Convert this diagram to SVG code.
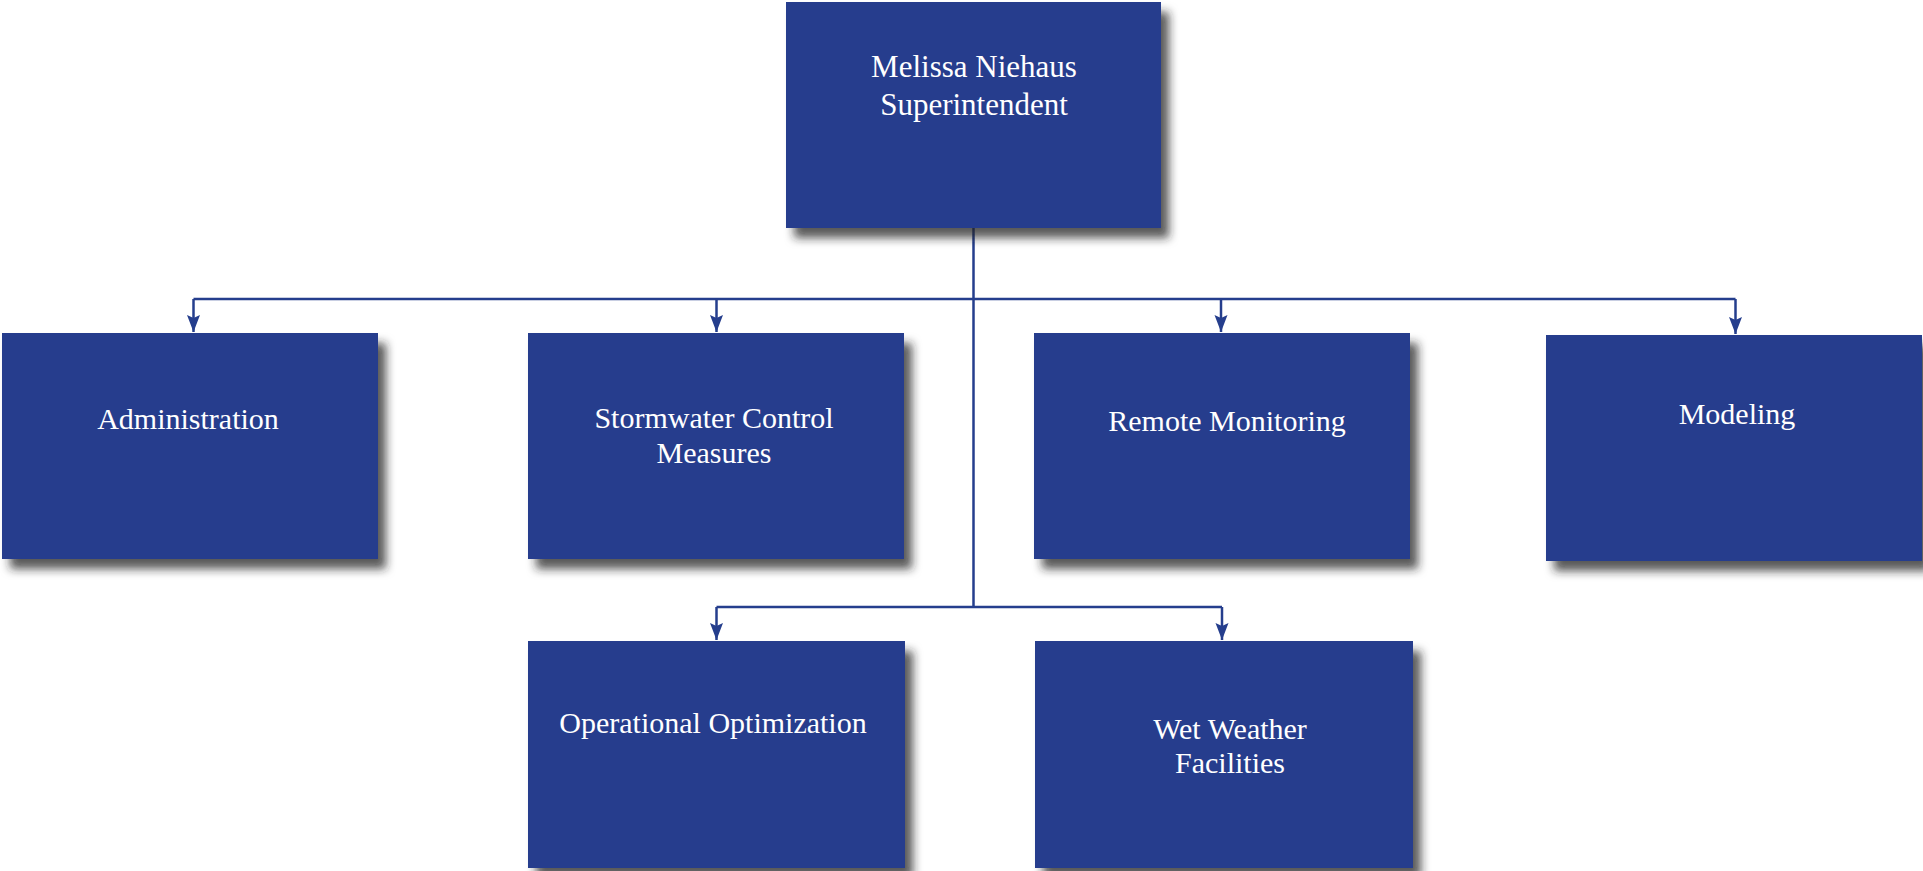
<svg xmlns="http://www.w3.org/2000/svg" width="1923" height="871" viewBox="0 0 1923 871">
<defs>
<filter id="sh" x="-5%" y="-5%" width="115%" height="120%">
<feDropShadow dx="8" dy="10" stdDeviation="5" flood-color="#222" flood-opacity="0.75"/>
</filter>
<marker id="arr" markerWidth="14" markerHeight="18" refX="7" refY="17" orient="0" markerUnits="userSpaceOnUse">
<path d="M0.5,0 L7,17 L13.5,0 L7,3 Z" fill="#253E8D"/>
</marker>
</defs>
<style>
.box{fill:#253E8D;filter:url(#sh);}
.t{font-family:"Liberation Serif","Times New Roman",serif;font-size:30px;fill:#ffffff;text-anchor:middle;}
.big{font-size:31px;}
.c{fill:none;stroke:#253E8D;stroke-width:2.5;}
</style>
<rect width="1923" height="871" fill="#ffffff"/>
<g id="connectors">
<line class="c" x1="973.5" y1="228" x2="973.5" y2="607"/>
<line class="c" x1="193.5" y1="299" x2="1735.5" y2="299"/>
<line class="c" x1="716.5" y1="607" x2="1222" y2="607"/>
<path class="c" d="M193.5,299 V332" marker-end="url(#arr)"/>
<path class="c" d="M716.5,299 V332" marker-end="url(#arr)"/>
<path class="c" d="M1221,299 V332" marker-end="url(#arr)"/>
<path class="c" d="M1735.5,299 V334" marker-end="url(#arr)"/>
<path class="c" d="M716.5,607 V640" marker-end="url(#arr)"/>
<path class="c" d="M1222,607 V640" marker-end="url(#arr)"/>
</g>
<g id="superintendent">
<rect class="box" x="786" y="2" width="375" height="226"/>
<text class="t big" x="974" y="77">Melissa Niehaus</text>
<text class="t big" x="974" y="115">Superintendent</text>
</g>
<g id="administration">
<rect class="box" x="2" y="333" width="376" height="226"/>
<text class="t" x="188" y="429">Administration</text>
</g>
<g id="stormwater">
<rect class="box" x="528" y="333" width="376" height="226"/>
<text class="t" x="714" y="428">Stormwater Control</text>
<text class="t" x="714" y="463">Measures</text>
</g>
<g id="remote">
<rect class="box" x="1034" y="333" width="376" height="226"/>
<text class="t" x="1227" y="431">Remote Monitoring</text>
</g>
<g id="modeling">
<rect class="box" x="1546" y="335" width="376" height="226"/>
<text class="t" x="1737" y="424">Modeling</text>
</g>
<g id="operational">
<rect class="box" x="528" y="641" width="377" height="227"/>
<text class="t" x="713" y="733">Operational Optimization</text>
</g>
<g id="wetweather">
<rect class="box" x="1035" y="641" width="378" height="227"/>
<text class="t" x="1230" y="739">Wet Weather</text>
<text class="t" x="1230" y="773">Facilities</text>
</g>
</svg>
